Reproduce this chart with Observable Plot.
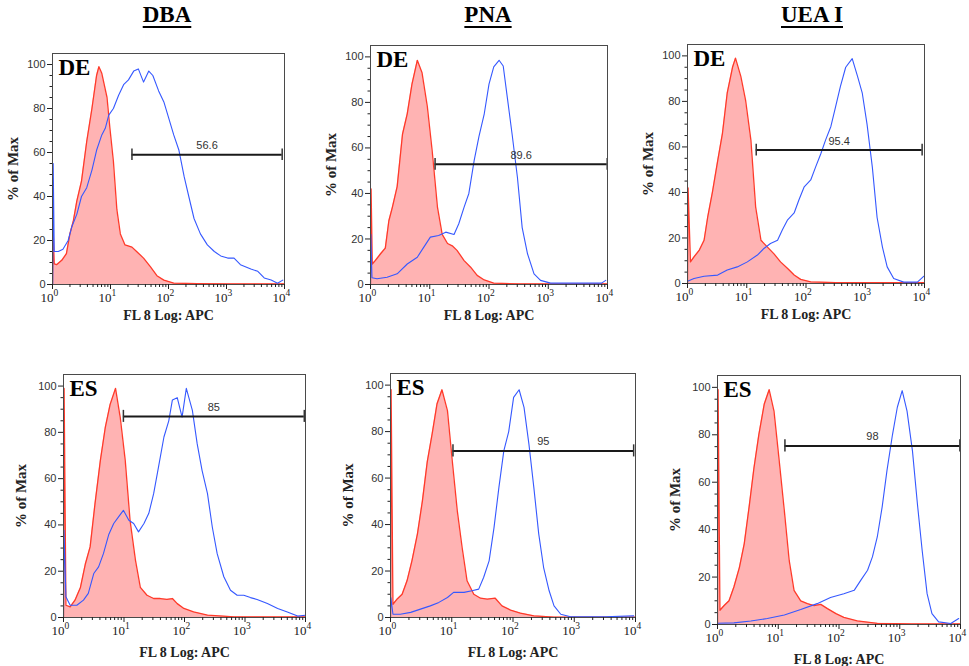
<!DOCTYPE html>
<html>
<head>
<meta charset="utf-8">
<script src="https://cdn.jsdelivr.net/npm/d3@7"></script>
<script src="https://cdn.jsdelivr.net/npm/@observablehq/plot@0.6"></script>
<style>
  html, body { margin: 0; padding: 0; background: #fff; }
  #root { position: relative; width: 969px; height: 666px; overflow: hidden; background: #fff; }
  .title { position: absolute; top: 2px; transform: translateX(-50%); font-family: "Liberation Serif", "Times New Roman", serif;
           font-weight: bold; font-size: 23px; color: #000; text-decoration: underline; text-decoration-thickness: 2px;
           text-underline-offset: 4px; white-space: nowrap; }
  .panel { position: absolute; }
</style>
</head>
<body>
<div id="root"></div>
<script>
// ---------------- data (x as log10 of FL 8 intensity, y as % of Max) ----------------
const lectins = ["DBA", "PNA", "UEA I"];
const stages = ["DE", "ES"];
const xTickExponents = ["0", "1", "2", "3", "4"];
const yMajorTicks = [0, 20, 40, 60, 80, 100];
const xLabelText = "FL 8 Log: APC";
const yLabelText = "% of Max";

// DBA – DE
const dbaDE_ctrlLog = [0, 0.012, 0.03, 0.07, 0.16, 0.24, 0.30, 0.36, 0.42, 0.50, 0.59, 0.68, 0.76, 0.80, 0.85, 0.94, 0.99, 1.05, 1.11, 1.17, 1.25, 1.37, 1.45, 1.57, 1.69, 1.80, 1.92, 2.09, 2.5, 3.0, 3.5, 4.0];
const dbaDE_ctrlPct = [0, 23.7, 9.4, 9, 11, 14, 23, 29, 38, 47, 65, 80, 95, 99, 96, 85, 71, 56, 34, 23, 18, 17, 15, 12, 8, 4, 2, 0.6, 0.4, 0.3, 0.3, 0.3];
const dbaDE_stainLog = [0.004, 0.012, 0.03, 0.10, 0.18, 0.27, 0.33, 0.42, 0.50, 0.59, 0.68, 0.76, 0.85, 0.91, 0.97, 1.05, 1.14, 1.23, 1.31, 1.40, 1.48, 1.57, 1.66, 1.73, 1.83, 1.92, 2.00, 2.09, 2.18, 2.27, 2.35, 2.44, 2.55, 2.67, 2.79, 2.90, 3.02, 3.13, 3.24, 3.42, 3.54, 3.65, 3.77, 3.88, 3.97];
const dbaDE_stainPct = [0, 55, 15, 15, 16, 20, 26, 32, 40, 44, 52, 61, 68, 71, 77, 80, 86, 91, 93, 97, 98, 92, 97, 95, 88, 83, 76, 68, 61, 49, 40, 30, 23, 18, 15, 13, 12, 12, 9, 7, 6, 3, 2, 0.6, 2];

// PNA – DE
const pnaDE_ctrlLog = [0, 0.01, 0.03, 0.08, 0.17, 0.25, 0.31, 0.37, 0.45, 0.54, 0.62, 0.70, 0.79, 0.87, 0.96, 1.04, 1.13, 1.21, 1.30, 1.38, 1.46, 1.58, 1.69, 1.80, 1.92, 2.08, 2.5, 3.0, 3.5, 4.0];
const pnaDE_ctrlPct = [0, 42, 9, 10.5, 13.5, 16, 28, 34, 43, 66, 75, 88, 98.5, 93, 78, 59, 34, 22, 18, 17, 15, 10.5, 7.6, 4, 2, 0.6, 0.3, 0.3, 0.3, 0.3];
const pnaDE_stainLog = [0, 0.006, 0.025, 0.11, 0.28, 0.45, 0.62, 0.79, 0.90, 1.01, 1.15, 1.27, 1.41, 1.49, 1.58, 1.66, 1.75, 1.83, 1.92, 2.00, 2.08, 2.17, 2.24, 2.31, 2.39, 2.48, 2.56, 2.65, 2.76, 2.87, 3.04, 3.5, 3.9, 3.97];
const pnaDE_stainPct = [0, 22, 3, 2.5, 3.2, 4.7, 9, 12, 16.4, 20.8, 21.5, 23, 22, 26.7, 34, 40, 54.5, 65, 75, 88, 95.6, 98.5, 96, 82, 66, 47, 25, 13.5, 4.7, 1.8, 0.6, 0.6, 0.6, 1.8];

// UEA I – DE
const ueaDE_ctrlLog = [0, 0.01, 0.05, 0.11, 0.20, 0.28, 0.34, 0.42, 0.51, 0.59, 0.67, 0.76, 0.81, 0.90, 0.98, 1.07, 1.15, 1.24, 1.35, 1.46, 1.57, 1.69, 1.80, 1.91, 2.08, 2.5, 3.0, 3.5, 4.0];
const ueaDE_ctrlPct = [0, 42, 9.5, 11.7, 14.7, 19, 29, 40, 54, 66, 83.6, 95, 99, 91, 80.6, 63, 33.7, 19, 16, 13, 9.5, 6.6, 3.7, 1.8, 0.7, 0.4, 0.4, 0.4, 0.4];
const ueaDE_stainLog = [0, 0.11, 0.28, 0.51, 0.67, 0.84, 1.01, 1.18, 1.29, 1.40, 1.52, 1.60, 1.69, 1.80, 1.88, 1.97, 2.08, 2.16, 2.25, 2.33, 2.42, 2.50, 2.58, 2.67, 2.78, 2.87, 2.95, 3.03, 3.12, 3.20, 3.29, 3.37, 3.48, 3.65, 3.88, 3.99];
const ueaDE_stainPct = [1, 2.2, 3.2, 3.7, 5.9, 7.3, 9.5, 12.5, 15.4, 17.6, 19, 23.5, 28, 31, 36.7, 42.5, 45.5, 51, 57, 63, 69, 77.7, 86.5, 95, 98.8, 91, 83.6, 70, 51, 29, 16, 7.3, 2.2, 0.6, 0.6, 3.2];

// DBA – ES
const dbaES_ctrlLog = [0, 0.01, 0.04, 0.11, 0.19, 0.28, 0.36, 0.44, 0.52, 0.61, 0.69, 0.77, 0.86, 0.94, 1.02, 1.10, 1.19, 1.27, 1.38, 1.49, 1.60, 1.71, 1.80, 1.88, 1.99, 2.15, 2.38, 2.82, 3.5, 4.0];
const dbaES_ctrlPct = [0, 99, 5.3, 4.6, 7.5, 13, 23, 30.5, 49, 68, 82, 92, 99, 86, 68, 42, 24.7, 13, 9.6, 8.2, 8.2, 7.8, 8.2, 6, 3.9, 2.4, 1, 0.3, 0.3, 0.3];
const dbaES_stainLog = [0, 0.008, 0.04, 0.11, 0.22, 0.33, 0.41, 0.50, 0.58, 0.66, 0.75, 0.83, 0.91, 0.99, 1.08, 1.16, 1.24, 1.33, 1.41, 1.49, 1.57, 1.66, 1.74, 1.80, 1.88, 1.96, 2.03, 2.13, 2.21, 2.29, 2.38, 2.46, 2.54, 2.65, 2.76, 2.87, 2.98, 3.09, 3.20, 3.37, 3.54, 3.70, 3.87, 4.0];
const dbaES_stainPct = [0, 37.7, 9, 5.3, 5.3, 7.5, 10.4, 19, 21.9, 27.6, 36, 40.6, 43.5, 46.3, 42, 40.6, 37, 40.6, 45, 53.5, 65, 78, 85, 94, 95, 86.6, 99, 89.5, 75, 63.6, 53.5, 39, 27.6, 17.6, 11.8, 9.6, 9.6, 8.6, 7.8, 6, 3.9, 2.4, 0.6, 1];

// PNA – ES
const pnaES_ctrlLog = [0, 0.01, 0.04, 0.11, 0.19, 0.27, 0.35, 0.44, 0.52, 0.60, 0.68, 0.76, 0.84, 0.93, 1.01, 1.09, 1.17, 1.25, 1.36, 1.47, 1.58, 1.71, 1.82, 1.96, 2.12, 2.34, 2.67, 3.2, 4.0];
const pnaES_ctrlPct = [0, 98, 5.7, 8, 10, 15.8, 24.4, 36, 50, 67, 79, 92, 98, 89, 67, 46, 30, 15.8, 10, 8.3, 7.9, 8.3, 5, 3.2, 1.9, 0.7, 0.2, 0.2, 0.2];
const pnaES_stainLog = [0, 0.006, 0.04, 0.16, 0.33, 0.49, 0.65, 0.79, 0.93, 1.03, 1.20, 1.33, 1.44, 1.52, 1.61, 1.69, 1.77, 1.85, 1.93, 2.01, 2.10, 2.18, 2.26, 2.34, 2.42, 2.50, 2.59, 2.67, 2.78, 2.94, 3.5, 3.97];
const pnaES_stainPct = [0, 8.6, 1.4, 1.4, 2.2, 3.6, 5, 6.5, 8.6, 10.8, 10.8, 11.5, 12.2, 17.2, 24.4, 38.7, 56, 71.7, 80, 94.7, 98, 90.4, 74.6, 56, 36, 21.5, 11.5, 5, 1.4, 0.3, 0.3, 0.7];

// UEA I – ES
const ueaES_ctrlLog = [0, 0.01, 0.04, 0.11, 0.19, 0.27, 0.36, 0.44, 0.52, 0.60, 0.68, 0.77, 0.85, 0.93, 1.01, 1.10, 1.18, 1.26, 1.37, 1.48, 1.59, 1.70, 1.81, 1.95, 2.08, 2.30, 2.63, 3.2, 4.0];
const ueaES_ctrlPct = [0, 99, 6, 8, 10, 15.8, 24, 34, 49.5, 66, 80, 93, 99, 90, 70.5, 48, 27, 14.4, 10, 8.8, 8, 8.5, 6.7, 4.6, 3, 1.5, 0.5, 0.3, 0.3];
const ueaES_stainLog = [0, 0.27, 0.55, 0.82, 1.10, 1.37, 1.64, 1.86, 2.08, 2.25, 2.36, 2.47, 2.55, 2.63, 2.71, 2.79, 2.88, 2.96, 3.04, 3.12, 3.21, 3.29, 3.37, 3.45, 3.53, 3.64, 3.84, 3.97];
const ueaES_stainPct = [0.5, 0.7, 1.5, 2.5, 4, 6.3, 8.8, 11.4, 13, 14.4, 18.7, 22.9, 28.5, 36.9, 49.5, 65, 80, 91.6, 98.6, 90, 73, 51, 31, 13, 4.6, 1.1, 0.4, 2.5];

// gates (log10 bounds), gate level (% of Max) and gate percentages
const gateLowLog  = [1.37, 1.09, 1.16, 0.99, 1.02, 1.11];
const gateHighLog = [3.96, 3.995, 3.96, 3.98, 3.97, 3.99];
const gateLevel   = [59, 52.8, 58.6, 86.9, 71.7, 75.3];
const gateLabel   = ["56.6", "89.6", "95.4", "85", "95", "98"];

// ---------------- layout ----------------
const panelSeries = [
  [dbaDE_ctrlLog, dbaDE_ctrlPct, dbaDE_stainLog, dbaDE_stainPct],
  [pnaDE_ctrlLog, pnaDE_ctrlPct, pnaDE_stainLog, pnaDE_stainPct],
  [ueaDE_ctrlLog, ueaDE_ctrlPct, ueaDE_stainLog, ueaDE_stainPct],
  [dbaES_ctrlLog, dbaES_ctrlPct, dbaES_stainLog, dbaES_stainPct],
  [pnaES_ctrlLog, pnaES_ctrlPct, pnaES_stainLog, pnaES_stainPct],
  [ueaES_ctrlLog, ueaES_ctrlPct, ueaES_stainLog, ueaES_stainPct]
];
// frame boxes in page pixels: left, right, top, bottom
const frames = [
  [52, 284, 53, 284], [370, 607, 45, 284], [687, 924, 44, 283],
  [63, 305, 374, 617], [390, 635, 373, 617], [717, 960, 375, 624]
];
const titleCenters = [167, 488, 812];
const rowXLabelOffset = [31, 35];
const rowYLabelOffset = [-39, -42];

const serif = "'Liberation Serif', 'Times New Roman', serif";
const sans = "'Liberation Sans', Arial, sans-serif";
const root = document.getElementById("root");

lectins.forEach((name, j) => {
  const t = document.createElement("div");
  t.className = "title";
  t.style.left = titleCenters[j] + "px";
  t.textContent = name;
  root.appendChild(t);
});

const xMajor = xTickExponents.map(e => 10 ** (+e));
const xMinor = [];
for (let k = 0; k < 4; k++) for (let m = 2; m <= 9; m++) xMinor.push(m * 10 ** k);
const yMinor = d3.range(0, 101, 5).filter(v => v % 20 !== 0);

panelSeries.forEach((series, i) => {
  const [L, R, T, B] = frames[i];
  const row = Math.floor(i / 3);
  const ml = 50, mr = 9, mt = 4, mb = 42;
  const [cl, cp, sl, sp] = series;
  const ctrl = cl.map((e, k) => ({x: 10 ** e, y: cp[k]}));
  const stain = sl.map((e, k) => ({x: 10 ** e, y: sp[k]}));
  const gate = [{lo: 10 ** gateLowLog[i], hi: 10 ** gateHighLog[i], mid: 10 ** ((gateLowLog[i] + gateHighLog[i]) / 2), y: gateLevel[i], label: gateLabel[i]}];
  const stage = stages[row];

  const svg = Plot.plot({
    width: R - L + ml + mr,
    height: B - T + mt + mb,
    marginLeft: ml, marginRight: mr, marginTop: mt, marginBottom: mb,
    x: {type: "log", domain: [1, 1e4]},
    y: {domain: [0, 105]},
    style: {fontFamily: sans, fontSize: "11px", color: "#333", background: "transparent", overflow: "visible"},
    marks: [
      Plot.areaY(ctrl, {x: "x", y: "y", fill: "#ffb3b3", clip: true}),
      Plot.lineY(ctrl, {x: "x", y: "y", stroke: "#ff3a2a", strokeWidth: 1.3, clip: true}),
      Plot.lineY(stain, {x: "x", y: "y", stroke: "#3558ff", strokeWidth: 1.1}),
      Plot.ruleY(gate, {x1: "lo", x2: "hi", y: "y", stroke: "#1a1a1a", strokeWidth: 2}),
      Plot.ruleX(gate, {x: "lo", y1: d => d.y - 2.6, y2: d => d.y + 2.6, stroke: "#333", strokeWidth: 1.5}),
      Plot.ruleX(gate, {x: "hi", y1: d => d.y - 2.6, y2: d => d.y + 2.6, stroke: "#333", strokeWidth: 1.5}),
      Plot.text(gate, {x: "mid", y: "y", text: "label", dy: -9, fontSize: 11, fill: "#333", fontFamily: sans}),
      Plot.frame({stroke: "#4a4a4a", strokeWidth: 1}),
      Plot.axisY({ticks: yMajorTicks, tickSize: 5, tickPadding: 2, label: null, fontSize: 11, stroke: "#222", fill: "#333"}),
      Plot.axisY({ticks: yMinor, tickSize: 2.5, tickFormat: () => "", label: null, stroke: "#222"}),
      Plot.axisX({ticks: xMajor, tickSize: 5, tickFormat: () => "", label: null, stroke: "#222"}),
      Plot.axisX({ticks: xMinor, tickSize: 3, tickFormat: () => "", label: null, stroke: "#222"}),
      Plot.text(xMajor, {x: d => d, frameAnchor: "bottom", text: () => "10", textAnchor: "end", lineAnchor: "middle",
                         dx: 1, dy: 13, fontSize: 13, fontFamily: serif, fill: "#222"}),
      Plot.text(xTickExponents, {x: d => 10 ** (+d), frameAnchor: "bottom", text: d => d, textAnchor: "start", lineAnchor: "middle",
                         dx: 1, dy: 8, fontSize: 9.5, fontFamily: serif, fill: "#222"}),
      Plot.text([stage], {frameAnchor: "top-left", text: d => d, dx: 6, dy: 5, fontSize: 23, fontWeight: "bold",
                         fontFamily: serif, fill: "#000"}),
      Plot.text([yLabelText], {frameAnchor: "left", text: d => d, rotate: -90, textAnchor: "middle", lineAnchor: "middle",
                         dx: rowYLabelOffset[row], fontSize: 15, fontWeight: "bold", fontFamily: serif, fill: "#222"}),
      Plot.text([xLabelText], {frameAnchor: "bottom", text: d => d, textAnchor: "middle", lineAnchor: "middle",
                         dy: rowXLabelOffset[row], fontSize: 14, fontWeight: "bold", fontFamily: serif, fill: "#222"})
    ]
  });
  const wrap = document.createElement("div");
  wrap.className = "panel";
  wrap.style.left = (L - ml) + "px";
  wrap.style.top = (T - mt) + "px";
  wrap.appendChild(svg);
  root.appendChild(wrap);
});
</script>
</body>
</html>
